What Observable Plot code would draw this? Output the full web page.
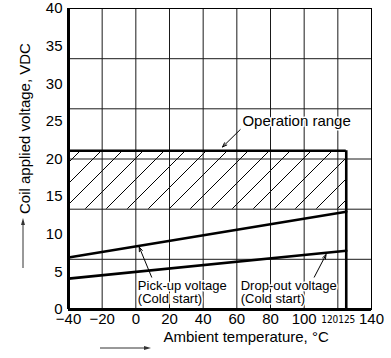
<!DOCTYPE html>
<html><head><meta charset="utf-8">
<script src="https://cdn.jsdelivr.net/npm/d3@7"></script>
<script src="https://cdn.jsdelivr.net/npm/@observablehq/plot@0.6"></script>
<style>
body{margin:0;background:#fff}
#chart svg{font-family:"Liberation Sans",Arial,Helvetica,sans-serif;display:block}
</style>
</head><body><div id="chart"></div><script>
// Axis ticks
const xTicks = [-40, -20, 0, 20, 40, 60, 80, 100, 140];
const xTickSmallLeft = [120];
const xTickSmallRight = [125];
const yTicks = [0, 5, 10, 15, 20, 25, 30, 35, 40];
// Grid (the chart's grid uses 40/6 V spacing)
const xGrid = [-20, 0, 20, 40, 60, 80, 100, 120];
const yGrid = [6.67, 13.33, 20, 26.67, 33.33];
// Series
const temps = [-40, 125];
const pickUp = [6.9, 13.0];
const dropOut = [4.1, 7.8];
// Operation range box
const rangeTemp = [-40, 125];
const rangeVolt = [13.33, 21.1];
// Annotations
const labels = ["Operation range", "Pick-up voltage\n(Cold start)", "Drop-out voltage\n(Cold start)"];
const labelX = [63.3, 1.2, 62.3];
const labelY = [25.1, 2.3, 2.3];
const labelSize = [15, 13, 13];
const arrowFrom = [[62, 23.9], [9.4, 4.3], [106, 4.3]];
const arrowTo = [[51.5, 21.6], [2.0, 8.3], [113, 7.3]];

const pickRows = temps.map((t, i) => ({t, v: pickUp[i]}));
const dropRows = temps.map((t, i) => ({t, v: dropOut[i]}));
const boxRow = [{x1: rangeTemp[0], x2: rangeTemp[1], y1: rangeVolt[0], y2: rangeVolt[1]}];
const labelRows = labels.map((text, i) => ({text, x: labelX[i], y: labelY[i], size: labelSize[i]}));
const arrowRows = arrowFrom.map((f, i) => ({x1: f[0], y1: f[1], x2: arrowTo[i][0], y2: arrowTo[i][1]}));

const W = 391, H = 358, mL = 68, mR = 20, mT = 8, mB = 49;
const narrow = "Liberation Sans Narrow, DejaVu Sans Condensed, sans-serif";

const plot = Plot.plot({
  width: W, height: H,
  marginLeft: mL, marginRight: mR, marginTop: mT, marginBottom: mB,
  x: {domain: [-40, 140]},
  y: {domain: [0, 40]},
  marks: [
    Plot.rect(boxRow, {x1: "x1", x2: "x2", y1: "y1", y2: "y2", fill: "url(#hatch)"}),
    Plot.ruleX(xGrid, {stroke: "#1a1a1a", strokeWidth: 1}),
    Plot.ruleY(yGrid, {stroke: "#1a1a1a", strokeWidth: 1}),
    Plot.frame({stroke: "#000", strokeWidth: 1}),
    Plot.ruleY([rangeVolt[1]], {x1: rangeTemp[0], x2: rangeTemp[1], stroke: "#000", strokeWidth: 2.6}),
    Plot.ruleX([rangeTemp[1]], {y1: 0, y2: rangeVolt[1], stroke: "#000", strokeWidth: 2.6}),
    Plot.ruleX([-40], {stroke: "#000", strokeWidth: 3}),
    Plot.ruleY([0], {stroke: "#000", strokeWidth: 3}),
    Plot.line(pickRows, {x: "t", y: "v", stroke: "#000", strokeWidth: 2.6}),
    Plot.line(dropRows, {x: "t", y: "v", stroke: "#000", strokeWidth: 2.6}),
    Plot.text(labelRows, {x: "x", y: "y", text: "text", fontSize: "size", textAnchor: "start", lineAnchor: "middle",
      lineHeight: 1.05, fill: "#000", stroke: "#fff", strokeWidth: 3}),
    Plot.arrow(arrowRows, {x1: "x1", y1: "y1", x2: "x2", y2: "y2", stroke: "#000", strokeWidth: 1, headLength: 7, headAngle: 40}),
    Plot.axisY(yTicks, {tickSize: 0, tickPadding: 6, fontSize: 15, label: null}),
    Plot.axisX(xTicks, {tickSize: 0, tickPadding: 4, fontSize: 15, label: null}),
    Plot.axisX(xTickSmallLeft, {tickSize: 0, tickPadding: 6, fontSize: 10, textAnchor: "end", dx: 0.5, label: null, fontFamily: narrow}),
    Plot.axisX(xTickSmallRight, {tickSize: 0, tickPadding: 6, fontSize: 10, dx: 0.5, label: null, fontFamily: narrow}),
    Plot.text(["Ambient temperature, °C"], {frameAnchor: "bottom-left", textAnchor: "start", dx: 95, dy: 32, fontSize: 15, fill: "#000"}),
    Plot.text(["Coil applied voltage, VDC"], {frameAnchor: "left", textAnchor: "start", rotate: -90, dx: -43, dy: 55, fontSize: 15, fill: "#000"})
  ]
});

const svg = d3.select(plot);
const defs = svg.insert("defs", ":first-child");
const pat = defs.append("pattern").attr("id", "hatch").attr("patternUnits", "userSpaceOnUse")
  .attr("width", 21).attr("height", 21);
pat.append("path").attr("d", "M0,21 L21,0 M-5.25,5.25 L5.25,-5.25 M15.75,26.25 L26.25,15.75")
  .attr("stroke", "#000").attr("stroke-width", 1).attr("fill", "none");

// decorative axis-label arrows
const deco = svg.append("g").attr("stroke", "#333").attr("fill", "#333");
deco.append("line").attr("x1", 100).attr("x2", 146).attr("y1", 348).attr("y2", 348).attr("stroke-width", 1);
deco.append("path").attr("d", "M151,348 L144,346 L144,350 Z").attr("stroke", "none");
deco.append("line").attr("x1", 23).attr("x2", 23).attr("y1", 268).attr("y2", 223).attr("stroke-width", 1);
deco.append("path").attr("d", "M23,218 L21,225 L25,225 Z").attr("stroke", "none");

document.getElementById("chart").appendChild(plot);
</script></body></html>
